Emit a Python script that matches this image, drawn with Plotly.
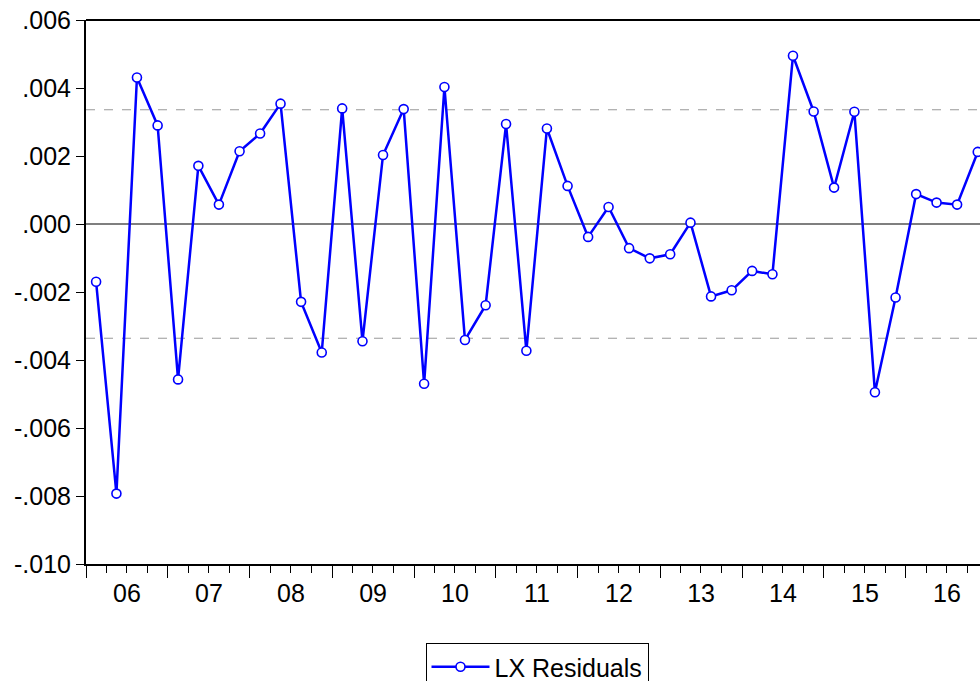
import pandas as pd
import plotly.graph_objects as go

# Quarterly residuals of the LX equation, 2006Q1 - 2016Q4
quarters = pd.period_range("2006Q1", "2016Q4", freq="Q")
residuals = [
    -0.00170, -0.00793, 0.00431, 0.00290,
    -0.00457, 0.00171, 0.00057, 0.00214,
    0.00266, 0.00354, -0.00229, -0.00378,
    0.00340, -0.00345, 0.00203, 0.00338,
    -0.00470, 0.00403, -0.00341, -0.00239,
    0.00294, -0.00373, 0.00281, 0.00112,
    -0.00038, 0.00050, -0.00071, -0.00101,
    -0.00089, 0.00004, -0.00213, -0.00195,
    -0.00138, -0.00148, 0.00495, 0.00331,
    0.00107, 0.00330, -0.00495, -0.00216,
    0.00088, 0.00063, 0.00057, 0.00212,
]
std_err = 0.00336

y_tick_values = [0.006, 0.004, 0.002, 0.000, -0.002, -0.004, -0.006, -0.008, -0.010]
y_tick_labels = [".006", ".004", ".002", ".000", "-.002", "-.004", "-.006", "-.008", "-.010"]

# plot each quarter at the middle of its period
dates = [p.start_time + (p.end_time - p.start_time) / 2 for p in quarters]

FONT = "Liberation Sans, Arial, sans-serif"
FS = 25

fig = go.Figure()
fig.add_trace(go.Scatter(
    x=dates, y=residuals, name="LX Residuals",
    mode="lines+markers",
    line=dict(color="#0000FF", width=2.5),
    marker=dict(symbol="circle", size=9, color="white",
                line=dict(color="#0000FF", width=1.6)),
    cliponaxis=False,
))

shapes = []
for lvl in (std_err, -std_err):
    shapes.append(dict(type="line", xref="paper", x0=0, x1=1, yref="y", y0=lvl, y1=lvl,
                       line=dict(color="#999999", width=1, dash="dash"), layer="below"))
shapes.append(dict(type="line", xref="paper", x0=0, x1=1, yref="y", y0=0, y1=0,
                   line=dict(color="black", width=1.2), layer="below"))
shapes.append(dict(type="line", xref="paper", x0=0, x1=1, yref="paper", y0=1, y1=1,
                   line=dict(color="black", width=2)))

fig.update_layout(
    width=980, height=681,
    margin=dict(l=86, r=0, t=20, b=117),
    paper_bgcolor="white", plot_bgcolor="white",
    font=dict(family=FONT, size=FS, color="black"),
    showlegend=True,
    legend=dict(orientation="h", xref="container", yref="container",
                x=537 / 980, xanchor="center", y=1 - 643 / 681, yanchor="top",
                itemwidth=58,
                bordercolor="black", borderwidth=1, font=dict(size=FS)),
    shapes=shapes,
    xaxis=dict(
        type="date", range=["2006-01-01", "2016-11-26"],
        tick0="2006-01-01", dtick="M12", tickformat="%y", ticklabelmode="period",
        ticks="outside", ticklen=12, tickwidth=1, tickcolor="black",
        ticklabelstandoff=-6,
        minor=dict(dtick="M3", tick0="2006-01-01", ticks="outside", ticklen=7,
                   tickwidth=1, tickcolor="black", showgrid=False),
        showline=True, linecolor="black", linewidth=2,
        showgrid=False, zeroline=False,
        tickfont=dict(size=FS),
    ),
    yaxis=dict(
        range=[-0.010, 0.006],
        tickvals=y_tick_values, ticktext=y_tick_labels,
        ticks="outside", ticklen=8, tickwidth=1, tickcolor="black",
        showline=True, linecolor="black", linewidth=2,
        showgrid=False, zeroline=False,
        tickfont=dict(size=FS),
    ),
)

fig.write_html("out.html")
